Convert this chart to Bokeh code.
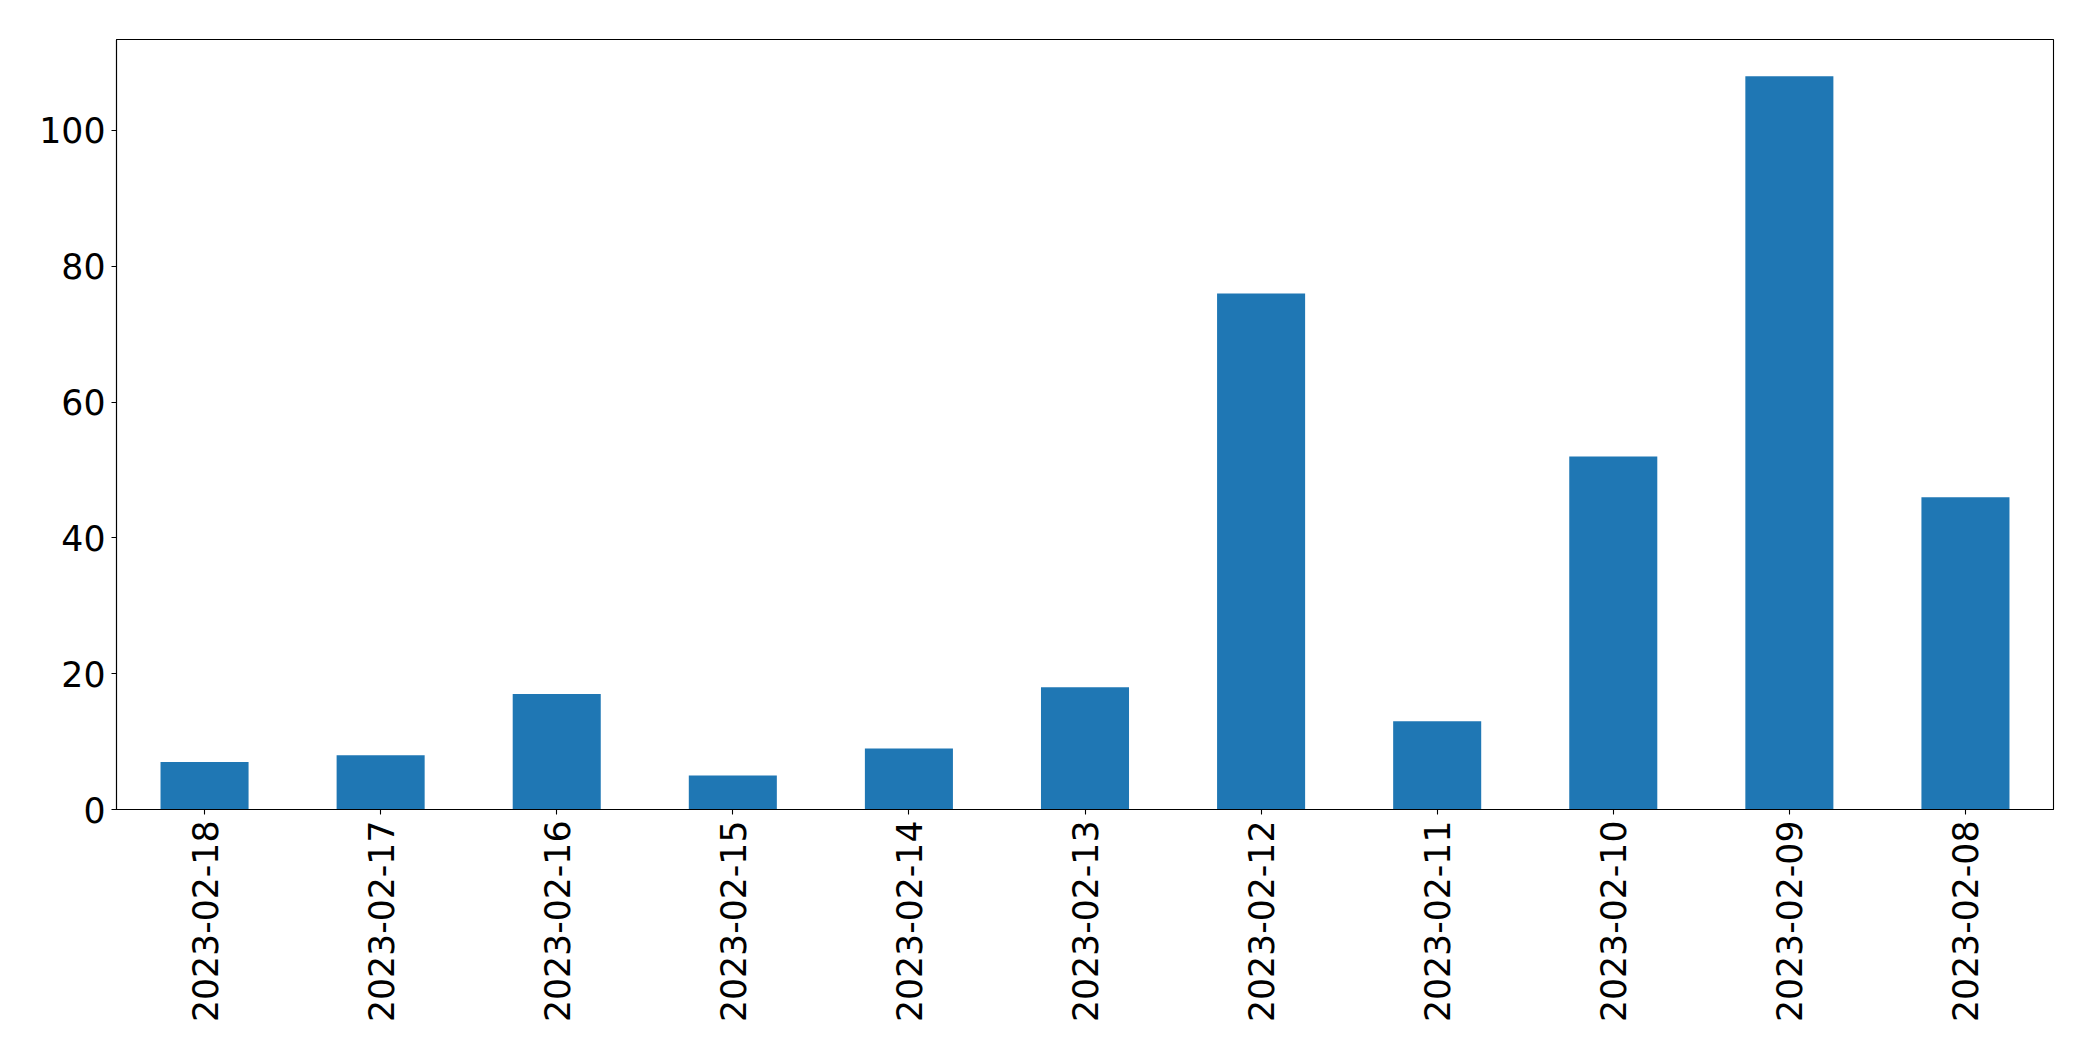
import math
from bokeh.plotting import figure
from bokeh.models import Range1d, FixedTicker, ColumnDataSource
from bokeh.embed import file_html
from bokeh.resources import INLINE

dates = ["2023-02-18", "2023-02-17", "2023-02-16", "2023-02-15", "2023-02-14",
         "2023-02-13", "2023-02-12", "2023-02-11", "2023-02-10", "2023-02-09",
         "2023-02-08"]
counts = [7, 8, 17, 5, 9, 18, 76, 13, 52, 108, 46]
y_ticks = [0, 20, 40, 60, 80, 100]

src = ColumnDataSource(data=dict(date=dates, count=counts))

p = figure(x_range=dates, y_range=Range1d(0, max(counts) * 1.05),
           width=2085, height=1053, output_backend="svg", toolbar_location=None,
           min_border_left=116, min_border_right=32, min_border_top=39,
           min_border_bottom=244)

p.vbar(x="date", top="count", width=0.5, source=src, color="#1f77b4",
       line_color=None)

p.xgrid.visible = False
p.ygrid.visible = False
p.outline_line_color = "black"
p.outline_line_width = 1.1
p.background_fill_color = "white"
p.border_fill_color = "white"

p.yaxis.ticker = FixedTicker(ticks=y_ticks)
for ax in (p.xaxis[0], p.yaxis[0]):
    ax.axis_line_color = "black"
    ax.axis_line_width = 1.1
    ax.major_tick_line_color = "black"
    ax.major_tick_line_width = 1.1
    ax.major_tick_in = 0
    ax.major_tick_out = 5
    ax.minor_tick_line_color = None
    ax.major_label_text_font = "DejaVu Sans"
    ax.major_label_text_font_size = "34.7px"
    ax.major_label_text_color = "black"
    ax.major_label_standoff = 6

p.xaxis.major_label_orientation = math.pi / 2

open("out.html", "w").write(file_html(p, INLINE))
